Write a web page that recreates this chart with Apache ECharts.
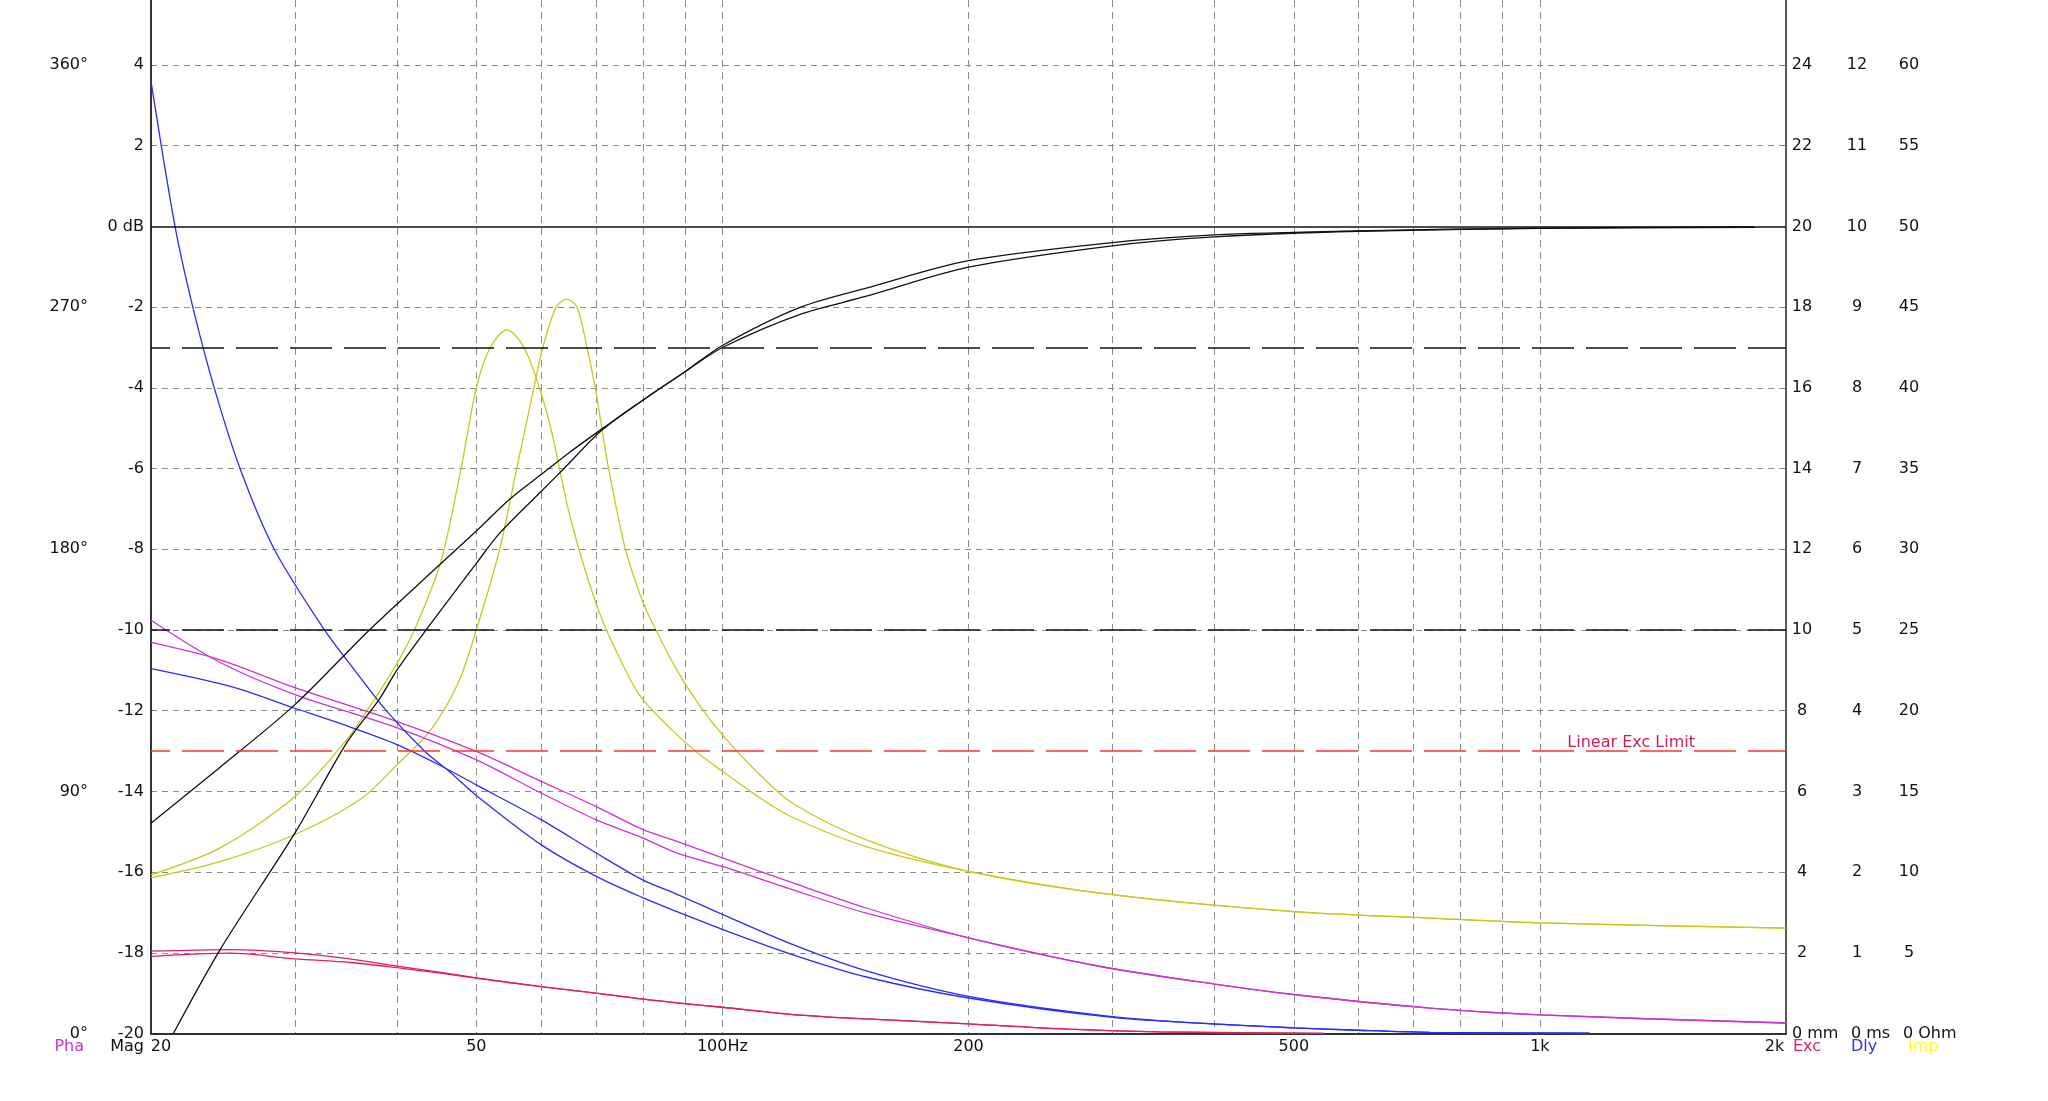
<!DOCTYPE html>
<html><head><meta charset="utf-8">
<script src="https://cdn.jsdelivr.net/npm/echarts@6/dist/echarts.min.js"></script>
<style>html,body{margin:0;padding:0;background:#fff}#c{width:2048px;height:1101px}</style>
</head><body><div id="c"></div>
<script>
const FONT = 'DejaVu Sans';

// ---- axes / ticks ----
const xGridFreqs = [30,40,50,60,70,80,90,100,200,300,400,500,600,700,800,900,1000];
const xTickFreqs = [20,50,100,200,500,1000,2000];
const xTickLabels = ['20','50','100Hz','200','500','1k','2k'];
const magTicks = [-20,-18,-16,-14,-12,-10,-8,-6,-4,-2,0,2,4];
const magGrid = [-18,-16,-14,-12,-10,-8,-6,-4,-2,2,4];
const phaseTicks = [0,90,180,270,360];
const excTicks = [0,2,4,6,8,10,12,14,16,18,20,22,24];
const dlyTicks = [0,1,2,3,4,5,6,7,8,9,10,11,12];
const impTicks = [0,5,10,15,20,25,30,35,40,45,50,55,60];

// reference lines (dB)
const refZero = 0;
const refMinus3 = -3;
const refMinus10 = -10;
const excLimit = -13;
const excLimitLabel = 'Linear Exc Limit';

// ---- magnitude (dB) ----
const magFreqA = [20,24.3,30,37,44.4,50,55,60,65,72,80,90,100,124,150,200,300,400,600,1000,1830];
const magA     = [-14.79,-13.4,-11.85,-10.0,-8.51,-7.55,-6.75,-6.15,-5.6,-4.95,-4.3,-3.6,-3.0,-2.19,-1.73,-1.01,-0.48,-0.26,-0.12,-0.05,-0.02];
const magFreqB = [21.3,24.3,30,34.7,38,40,43.4,50,53.4,60,63.8,71.3,80,90,100,124,150,200,300,400,600,1000,1830];
const magB     = [-20,-17.92,-15.03,-12.8,-11.73,-10.99,-10.0,-8.35,-7.6,-6.57,-6.03,-5.04,-4.3,-3.6,-2.95,-2.02,-1.53,-0.85,-0.40,-0.21,-0.11,-0.04,-0.01];

// ---- impedance (Ohm) ----
const impFreqA = [20,24.3,30,34.7,37.5,40,42,45.2,47.9,50,52,54.5,57.2,60,62,65.1,70,74,79.4,88,94,100,110,122,150,200,300,500,733,1000,2000];
const impA     = [9.83,11.5,14.68,18.2,20.68,22.95,25.0,29.15,35.0,40.0,42.5,43.6,42.5,39.68,37.0,32.03,26.68,23.78,20.88,18.5,17.25,16.25,14.75,13.38,11.58,10.05,8.6,7.55,7.15,6.85,6.53];
const impFreqB = [20,24.3,30,36,40,44,47.5,50,53.4,56.1,58.8,60.3,62.6,64.5,66.4,68.3,69.9,72.5,76.1,80,82.9,88,94,100,110,122,150,200,300,500,733,1000,2000];
const impB     = [9.65,10.65,12.33,14.48,16.65,18.83,21.7,25.0,30.0,35.13,40.0,42.5,45.0,45.5,45.0,42.5,40.0,35.13,30.0,26.68,25.0,22.5,20.25,18.5,16.25,14.25,12.0,10.05,8.6,7.55,7.15,6.85,6.53];

// ---- group delay (ms) ----
const dlyFreqA = [20,21.4,22.5,23.9,25.7,28.3,32.6,35.5,38.8,43.2,46.3,50,60,70,80,88,100,122,150,200,300,404,500,600,733,1150];
const dlyA     = [11.8,10.0,9.0,8.0,7.0,6.0,5.0,4.5,4.0,3.5,3.25,2.95,2.34,1.95,1.68,1.51,1.29,0.975,0.70,0.44,0.2,0.115,0.07,0.04,0.015,0.005];
const dlyFreqB = [20,25,30,35,40,45,50,60,70,80,88,100,122,150,200,300,404,500,600,733,1150];
const dlyB     = [4.52,4.3,4.03,3.8,3.58,3.33,3.08,2.65,2.24,1.9,1.725,1.475,1.1,0.775,0.46,0.21,0.115,0.07,0.04,0.015,0.005];

// ---- phase (deg) ----
const phFreq = [20,24.3,30,40,50,60,70,80,88,100,122,150,200,290,404,502,733,1000,2000];
const phA    = [153.6,137.9,126,113.6,101.7,89.4,79.5,72.6,67.05,62.1,53.4,44.7,35.55,24.9,18.15,14.4,9.45,6.9,3.9];
const phB    = [145.35,138.9,128.55,115.95,104.85,93.75,84.45,75.75,71.4,65.25,55.95,46.65,35.55,24.9,18.15,14.4,9.45,6.9,3.9];

// ---- excursion (mm) ----
const excFreq = [20,25,30,35,40,45,50,60,70,80,88,100,122,150,200,270,342,545];
const excA    = [2.04,2.08,2.0,1.85,1.67,1.52,1.38,1.16,1.0,0.85,0.76,0.65,0.47,0.36,0.24,0.1,0.04,0.0];
const excB    = [1.91,1.99,1.85,1.76,1.63,1.5,1.37,1.16,1.0,0.85,0.76,0.65,0.47,0.36,0.24,0.1,0.04,0.0];

const C_BLACK = '#111111', C_YEL = '#c8c81e', C_BLUE = '#2b2bff', C_MAG = '#cc33cc', C_EXC = '#e0205a';

function pairs(xs, ys){ return xs.map((x,i)=>[x, ys[i]]); }

const MAG_MIN = -20, MAG_MAX = 5.611;
const span = MAG_MAX - MAG_MIN;

const lblBase = {color:'#111', fontFamily: FONT, fontSize: 16};

function rightAxis(max, ticks, unit, offset, showLine, padLeft){
  return {
    type:'value', position:'right', min:0, max:max, offset:offset,
    axisLine:{show:showLine, onZero:false, lineStyle:{color:'#222', width:1.5}},
    axisTick:{show:false}, splitLine:{show:false},
    axisLabel:{
      customValues: ticks, align:'left', margin:6,
      formatter: v => v === 0 ? '{z|0 ' + unit + '}' : '{v|' + v + '}',
      rich:{
        v:{width:20, align:'center', color:'#111', fontFamily:FONT, fontSize:16},
        z:{color:'#111', fontFamily:FONT, fontSize:16, padding:[0,0,0,padLeft]}
      }
    }
  };
}

function line(name, data, color, yIdx){
  return {name, type:'line', data, yAxisIndex:yIdx, showSymbol:false, symbol:'none',
    smooth:0.3, lineStyle:{color, width:1.3}, silent:true, z:3};
}

const chart = echarts.init(document.getElementById('c'), null, {renderer:'canvas'});

const dashLong = [42,12];
const blackSeries = line('Mag A', pairs(magFreqA, magA), C_BLACK, 0);
blackSeries.markLine = {
  silent:true, symbol:'none', animation:false,
  data:[
    {yAxis: refZero, lineStyle:{color:'#111', width:1.5, type:'solid'}, label:{show:false}},
    {yAxis: refMinus3, lineStyle:{color:'#111', width:1.5, type:dashLong, dashOffset:23}, label:{show:false}},
    {yAxis: refMinus10, lineStyle:{color:'#111', width:1.5, type:dashLong, dashOffset:23}, label:{show:false}},
    {yAxis: excLimit, lineStyle:{color:'#ff3030', width:1.5, type:dashLong, dashOffset:23},
     label:{show:true, formatter: excLimitLabel, position:'insideEndTop', distance:0,
            padding:[0,91,0,0], color:'#c8205a', fontFamily:FONT, fontSize:16}}
  ]
};

chart.setOption({
  animation:false,
  backgroundColor:'#ffffff',
  grid:{left:151, right:262, top:0, bottom:67.5, containLabel:false},
  xAxis:{
    type:'log', logBase:10, min:20, max:2000,
    axisLine:{show:true, onZero:false, lineStyle:{color:'#333', width:2}},
    axisTick:{show:false, customValues: xGridFreqs},
    splitLine:{show:true, lineStyle:{color:'#8c8c8c', width:1, type:[7,5]}},
    axisLabel:{
      customValues: xTickFreqs, margin:5,
      formatter: v => {
        let i = xTickFreqs.findIndex(f => Math.abs(f - v) < 0.5);
        if (i < 0) return '';
        if (i === 0) return '{l|' + xTickLabels[i] + '}';
        if (i === xTickFreqs.length-1) return '{r|' + xTickLabels[i] + '}';
        return '{c|' + xTickLabels[i] + '}';
      },
      rich:{
        l:{color:'#111', fontFamily:FONT, fontSize:16, padding:[0,0,0,20]},
        r:{color:'#111', fontFamily:FONT, fontSize:16, padding:[0,23,0,0]},
        c:{color:'#111', fontFamily:FONT, fontSize:16}
      }
    }
  },
  yAxis:[
    { type:'value', position:'left', min:MAG_MIN, max:MAG_MAX,
      axisLine:{show:true, onZero:false, lineStyle:{color:'#333', width:2}},
      axisTick:{show:false, customValues: magGrid},
      splitLine:{show:true, lineStyle:{color:'#8c8c8c', width:1, type:[6,5]}},
      axisLabel:{customValues: magTicks, margin:7, ...lblBase,
        formatter: v => v === 0 ? '0 dB' : String(v)} },
    { type:'value', position:'left', min:0, max:span*15, offset:55,
      axisLine:{show:false, onZero:false}, axisTick:{show:false}, splitLine:{show:false},
      axisLabel:{customValues: phaseTicks, margin:8, ...lblBase, formatter: v => v + '°'} },
    rightAxis(span, excTicks, 'mm', 0, true, 0),
    rightAxis(span/2, dlyTicks, 'ms', 55, false, 4),
    rightAxis(span*2.5, impTicks, 'Ohm', 107, false, 4)
  ],
  graphic:[
    {type:'text', style:{text:'Pha', x:84, y:1047, align:'right', verticalAlign:'middle', fill:'#cc33cc', font:'16px "DejaVu Sans"'}},
    {type:'text', style:{text:'Mag', x:144, y:1047, align:'right', verticalAlign:'middle', fill:'#111', font:'16px "DejaVu Sans"'}},
    {type:'text', style:{text:'Exc', x:1793, y:1047, align:'left', verticalAlign:'middle', fill:'#e0206a', font:'16px "DejaVu Sans"'}},
    {type:'text', style:{text:'Dly', x:1851, y:1047, align:'left', verticalAlign:'middle', fill:'#3030ff', font:'16px "DejaVu Sans"'}},
    {type:'text', style:{text:'Imp', x:1908, y:1047, align:'left', verticalAlign:'middle', fill:'#ffff30', font:'16px "DejaVu Sans"'}}
  ],
  series:[
    line('Imp A', pairs(impFreqA, impA), C_YEL, 4),
    line('Imp B', pairs(impFreqB, impB), C_YEL, 4),
    line('Pha A', pairs(phFreq, phA), C_MAG, 1),
    line('Pha B', pairs(phFreq, phB), C_MAG, 1),
    line('Exc A', pairs(excFreq, excA), C_EXC, 2),
    line('Exc B', pairs(excFreq, excB), C_EXC, 2),
    line('Dly A', pairs(dlyFreqA, dlyA), C_BLUE, 3),
    line('Dly B', pairs(dlyFreqB, dlyB), C_BLUE, 3),
    blackSeries,
    line('Mag B', pairs(magFreqB, magB), C_BLACK, 0)
  ]
});
</script></body></html>
